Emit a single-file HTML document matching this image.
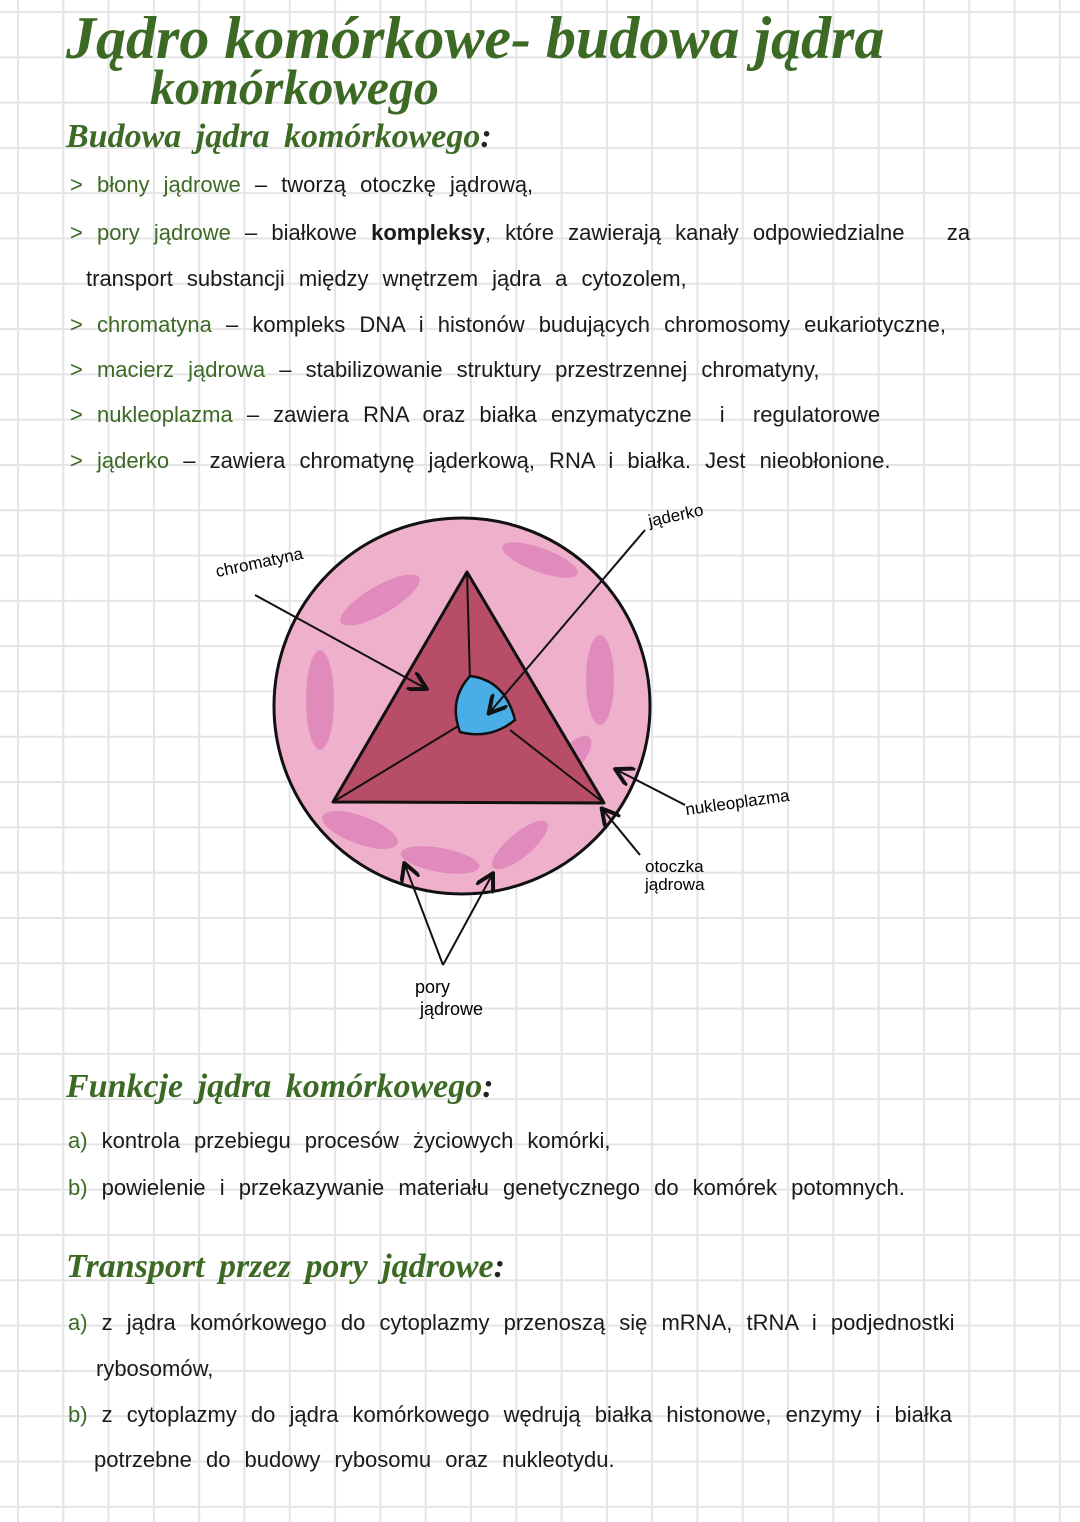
<!DOCTYPE html>
<html><head><meta charset="utf-8"><style>
body{margin:0;width:1080px;height:1522px;overflow:hidden;position:relative;font-family:"Liberation Sans",sans-serif;
background-color:#fff;
background-image:linear-gradient(to right,#e4e4e6 2px,transparent 2px),linear-gradient(to bottom,#e4e4e6 2px,transparent 2px);
background-size:45.3px 45.3px;background-position:17px 11px;}
.t{position:absolute;white-space:nowrap;}
.g{color:#3c6a25;font-family:"Liberation Serif",serif;font-style:italic;font-weight:bold;}
.b{color:#1a1a1a;font-size:22px;word-spacing:8px;}
.gl{color:#3c6a25;}
</style></head><body>
<div class="t g" style="left:66px;top:4px;font-size:60px">Jądro komórkowe- budowa jądra</div>
<div class="t g" style="left:150px;top:58px;font-size:50px">komórkowego</div>
<div class="t g" style="left:66px;top:118px;font-size:34px;word-spacing:6px">Budowa jądra komórkowego<span style="color:#222">:</span></div>
<div class="t b" style="left:70px;top:172px"><span class="gl">&gt; błony jądrowe</span> – tworzą otoczkę jądrową,</div>
<div class="t b" style="left:70px;top:220px"><span class="gl">&gt; pory jądrowe</span> – białkowe <b>kompleksy</b>, które zawierają kanały odpowiedzialne &nbsp;&nbsp;za</div>
<div class="t b" style="left:86px;top:266px">transport substancji między wnętrzem jądra a cytozolem,</div>
<div class="t b" style="left:70px;top:312px"><span class="gl">&gt; chromatyna</span> – kompleks DNA i histonów budujących chromosomy eukariotyczne,</div>
<div class="t b" style="left:70px;top:357px"><span class="gl">&gt; macierz jądrowa</span> – stabilizowanie struktury przestrzennej chromatyny,</div>
<div class="t b" style="left:70px;top:402px"><span class="gl">&gt; nukleoplazma</span> – zawiera RNA oraz białka enzymatyczne &nbsp;i &nbsp;regulatorowe</div>
<div class="t b" style="left:70px;top:448px"><span class="gl">&gt; jąderko</span> – zawiera chromatynę jąderkową, RNA i białka. Jest nieobłonione.</div>

<svg style="position:absolute;left:0;top:0" width="1080" height="1522">
<defs><marker id="a" markerWidth="10" markerHeight="10" refX="8" refY="5" orient="auto"><path d="M0,0 L9,5 L0,10" fill="none" stroke="#111" stroke-width="2"/></marker></defs>
<circle cx="462" cy="706" r="188" fill="#efb0cc" stroke="#111" stroke-width="3"/>
<g fill="#dd82b8" opacity="0.8">
<ellipse cx="380" cy="600" rx="45" ry="14" transform="rotate(-30 380 600)"/>
<ellipse cx="540" cy="560" rx="40" ry="12" transform="rotate(20 540 560)"/>
<ellipse cx="600" cy="680" rx="14" ry="45"/>
<ellipse cx="320" cy="700" rx="14" ry="50"/>
<ellipse cx="360" cy="830" rx="40" ry="14" transform="rotate(20 360 830)"/>
<ellipse cx="440" cy="860" rx="40" ry="12" transform="rotate(10 440 860)"/>
<ellipse cx="520" cy="845" rx="35" ry="12" transform="rotate(-40 520 845)"/>
<ellipse cx="570" cy="760" rx="30" ry="12" transform="rotate(-50 570 760)"/>
</g>
<polygon points="467,572 604,803 333,802" fill="#b84d68" stroke="#111" stroke-width="3" stroke-linejoin="round"/>
<polyline points="467,572 470,680" fill="none" stroke="#111" stroke-width="2"/>
<polyline points="333,802 460,725" fill="none" stroke="#111" stroke-width="2"/>
<polyline points="604,803 510,730" fill="none" stroke="#111" stroke-width="2"/>
<path d="M470,676 Q505,680 515,720 Q490,740 460,732 Q448,700 470,676Z" fill="#4aaee6" stroke="#111" stroke-width="2.5"/>
<g stroke="#111" stroke-width="2" fill="none" marker-end="url(#a)">
<line x1="255" y1="595" x2="425" y2="688"/>
<line x1="645" y1="530" x2="490" y2="712"/>
<line x1="685" y1="805" x2="617" y2="770"/>
<line x1="640" y1="855" x2="603" y2="810"/>
<line x1="443" y1="965" x2="405" y2="865"/>
<line x1="443" y1="965" x2="492" y2="875"/>
</g>
</svg>
<div class="t" style="left:215px;top:553px;font-size:17px;transform:rotate(-12deg)">chromatyna</div>
<div class="t" style="left:648px;top:506px;font-size:17px;transform:rotate(-12deg)">jąderko</div>
<div class="t" style="left:685px;top:793px;font-size:17px;transform:rotate(-8deg)">nukleoplazma</div>
<div class="t" style="left:645px;top:858px;font-size:17px;line-height:18px">otoczka<br>jądrowa</div>
<div class="t" style="left:415px;top:976px;font-size:18px;line-height:22px">pory<br>&nbsp;jądrowe</div>

<div class="t g" style="left:66px;top:1068px;font-size:34px;word-spacing:6px">Funkcje jądra komórkowego<span style="color:#222">:</span></div>
<div class="t b" style="left:68px;top:1128px"><span class="gl">a)</span> kontrola przebiegu procesów życiowych komórki,</div>
<div class="t b" style="left:68px;top:1175px"><span class="gl">b)</span> powielenie i przekazywanie materiału genetycznego do komórek potomnych.</div>
<div class="t g" style="left:66px;top:1248px;font-size:34px;word-spacing:6px">Transport przez pory jądrowe<span style="color:#222">:</span></div>
<div class="t b" style="left:68px;top:1310px"><span class="gl">a)</span> z jądra komórkowego do cytoplazmy przenoszą się mRNA, tRNA i podjednostki</div>
<div class="t b" style="left:96px;top:1356px">rybosomów,</div>
<div class="t b" style="left:68px;top:1402px"><span class="gl">b)</span> z cytoplazmy do jądra komórkowego wędrują białka histonowe, enzymy i białka</div>
<div class="t b" style="left:94px;top:1447px">potrzebne do budowy rybosomu oraz nukleotydu.</div>
</body></html>
